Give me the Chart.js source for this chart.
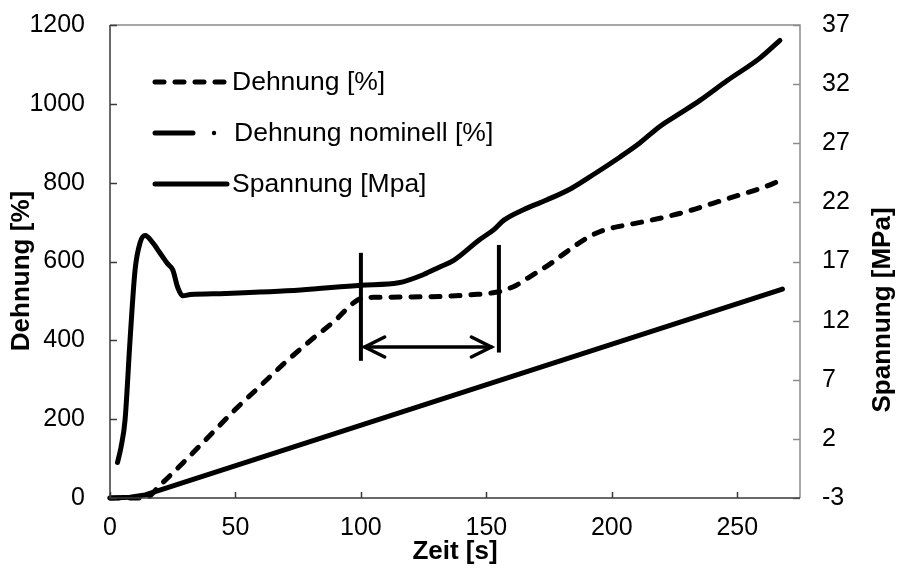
<!DOCTYPE html>
<html>
<head>
<meta charset="utf-8">
<script src="https://cdn.jsdelivr.net/npm/chart.js@4.4.1/dist/chart.umd.min.js"></script>
<style>
  html, body { margin: 0; padding: 0; background: #fff; }
  canvas { display: block; }
</style>
</head>
<body>
<canvas id="chart" width="899" height="568"></canvas>
<script>
// ---- data ----
const dehnungTime = [0, 14, 20, 30, 40, 50, 60, 70, 80, 90, 97, 101, 105, 120, 135, 145, 152, 156, 162, 167, 175, 181, 186, 191, 197, 203, 212, 220, 230, 240, 250, 260, 267];
const dehnungValues = [0, 0, 33, 95, 160, 225, 285, 345, 400, 452, 495, 508, 509, 510, 512, 516, 520, 525, 540, 560, 592, 620, 643, 663, 680, 689, 700, 711, 727, 747, 767, 787, 805];

const nominellTime = [0, 8, 14, 268];
const nominellValues = [0, 2, 8, 530];

const spannungTime = [3, 4.4, 6, 8, 10, 12, 14, 17, 20, 23, 25, 27, 29, 32, 46, 76, 100, 115, 125, 131, 137, 147, 153, 157, 165, 174, 184, 193, 203, 211, 219, 227, 235, 246, 259, 267];
const spannungValues = [0, 1.3, 3.6, 10.4, 16.3, 18.6, 19.2, 18.6, 17.7, 16.8, 16.3, 14.8, 14.1, 14.2, 14.3, 14.6, 15.0, 15.2, 15.9, 16.5, 17.1, 18.8, 19.7, 20.5, 21.4, 22.2, 23.2, 24.4, 25.8, 27.0, 28.4, 29.5, 30.6, 32.3, 34.2, 35.7];

// annotation: two markers and a double arrow between them (data units, left axis)
const markerTime = [100, 155];
const markerLow = [348, 369];
const markerHigh = [622, 642];
const arrowLevel = 383;
const arrowEnds = [101.5, 152];

const xTicks = [0, 50, 100, 150, 200, 250];
const leftTicks = [0, 200, 400, 600, 800, 1000, 1200];
const rightTicks = [-3, 2, 7, 12, 17, 22, 27, 32, 37];

const legendLabels = ['Dehnung [%]', 'Dehnung nominell [%]', 'Spannung [Mpa]'];
const xTitle = 'Zeit [s]';
const leftTitle = 'Dehnung [%]';
const rightTitle = 'Spannung [MPa]';

const FONT = "'Liberation Sans', Arial, sans-serif";

function toPoints(xs, ys) {
    return xs.map((x, i) => ({ x: x, y: ys[i] }));
}

// inward tick marks, frame, axis titles, legend and arrow heads
const framePlugin = {
    id: 'frame',
    afterDatasetsDraw(chart) {
        const ctx = chart.ctx;
        const a = chart.chartArea;
        const sx = chart.scales.x, sy = chart.scales.y, sy2 = chart.scales.y2;
        ctx.save();

        // plot border: grey top/right, dark left/bottom
        ctx.lineWidth = 1.5;
        ctx.strokeStyle = '#8c8c8c';
        ctx.beginPath();
        ctx.moveTo(a.left, a.top); ctx.lineTo(a.right, a.top); ctx.lineTo(a.right, a.bottom);
        ctx.stroke();
        rightTicks.forEach(v => {
            const y = Math.round(sy2.getPixelForValue(v)) + 0.5;
            ctx.beginPath(); ctx.moveTo(a.right, y); ctx.lineTo(a.right - 7, y); ctx.stroke();
        });

        ctx.strokeStyle = '#3a3a3a';
        ctx.beginPath();
        ctx.moveTo(a.left, a.top); ctx.lineTo(a.left, a.bottom); ctx.lineTo(a.right, a.bottom);
        ctx.stroke();
        leftTicks.forEach(v => {
            const y = Math.round(sy.getPixelForValue(v)) + 0.5;
            ctx.beginPath(); ctx.moveTo(a.left, y); ctx.lineTo(a.left + 7, y); ctx.stroke();
        });
        xTicks.forEach(v => {
            const x = Math.round(sx.getPixelForValue(v)) + 0.5;
            ctx.beginPath(); ctx.moveTo(x, a.bottom); ctx.lineTo(x, a.bottom - 6); ctx.stroke();
        });

        // arrow heads
        ctx.strokeStyle = '#000';
        ctx.lineWidth = 3.5;
        ctx.lineCap = 'round';
        const ay = sy.getPixelForValue(arrowLevel);
        const x1 = sx.getPixelForValue(arrowEnds[0]);
        const x2 = sx.getPixelForValue(arrowEnds[1]);
        ctx.beginPath();
        ctx.moveTo(x1 + 20, ay - 10); ctx.lineTo(x1, ay); ctx.lineTo(x1 + 20, ay + 10);
        ctx.moveTo(x2 - 20, ay - 10); ctx.lineTo(x2, ay); ctx.lineTo(x2 - 20, ay + 10);
        ctx.stroke();

        // legend
        const lx = a.left + 45, ly = a.top + 57, step = 51;
        ctx.lineWidth = 5;
        ctx.lineCap = 'round';
        ctx.setLineDash([9, 11]);
        ctx.beginPath(); ctx.moveTo(lx, ly); ctx.lineTo(lx + 72, ly); ctx.stroke();
        ctx.setLineDash([]);
        ctx.beginPath(); ctx.moveTo(lx, ly + step); ctx.lineTo(lx + 38, ly + step); ctx.stroke();
        ctx.beginPath(); ctx.arc(lx + 59, ly + step, 2.2, 0, Math.PI * 2); ctx.fillStyle = '#000'; ctx.fill();
        ctx.beginPath(); ctx.moveTo(lx, ly + 2 * step); ctx.lineTo(lx + 72, ly + 2 * step); ctx.stroke();

        ctx.fillStyle = '#000';
        ctx.font = '26.5px ' + FONT;
        ctx.textAlign = 'left';
        ctx.textBaseline = 'middle';
        legendLabels.forEach((t, i) => {
            const off = i === 1 ? 79 : 77;
            ctx.fillText(t, lx + off, ly + i * step + 1);
        });

        // axis titles
        ctx.font = 'bold 26px ' + FONT;
        ctx.textAlign = 'center';
        ctx.fillText(xTitle, (a.left + a.right) / 2, 552);
        ctx.save();
        ctx.translate(22, 271);
        ctx.rotate(-Math.PI / 2);
        ctx.fillText(leftTitle, 0, 0);
        ctx.restore();
        ctx.save();
        ctx.translate(883, 310);
        ctx.rotate(-Math.PI / 2);
        ctx.fillText(rightTitle, 0, 0);
        ctx.restore();

        ctx.restore();
    }
};

const lineBase = {
    borderColor: '#000',
    backgroundColor: '#000',
    borderWidth: 5,
    pointRadius: 0,
    fill: false,
    clip: false,
    borderCapStyle: 'round',
    borderJoinStyle: 'round'
};

const markerSets = markerTime.map((t, i) => Object.assign({}, lineBase, {
    data: [{ x: t, y: markerLow[i] }, { x: t, y: markerHigh[i] }],
    borderWidth: 4,
    borderCapStyle: 'butt',
    yAxisID: 'y'
}));

const plainLabel = v => String(v);

// fixed axis boxes so the plot area sits where the reference has it
function fixBox(size, horizontal) {
    return s => {
        if (horizontal) s.height = size; else s.width = size;
        s.paddingTop = 0; s.paddingBottom = 0; s.paddingLeft = 0; s.paddingRight = 0;
    };
}

new Chart(document.getElementById('chart'), {
    type: 'line',
    data: {
        datasets: [
            Object.assign({}, lineBase, {
                label: legendLabels[0],
                data: toPoints(dehnungTime, dehnungValues),
                borderDash: [9, 11],
                cubicInterpolationMode: 'monotone',
                yAxisID: 'y'
            }),
            Object.assign({}, lineBase, {
                label: legendLabels[1],
                data: toPoints(nominellTime, nominellValues),
                yAxisID: 'y'
            }),
            Object.assign({}, lineBase, {
                label: legendLabels[2],
                data: toPoints(spannungTime, spannungValues),
                cubicInterpolationMode: 'monotone',
                yAxisID: 'y2'
            }),
            ...markerSets,
            Object.assign({}, lineBase, {
                data: [{ x: arrowEnds[0], y: arrowLevel }, { x: arrowEnds[1], y: arrowLevel }],
                borderWidth: 3.5,
                yAxisID: 'y'
            })
        ]
    },
    options: {
        responsive: false,
        animation: false,
        layout: { padding: { top: 25, left: 0, right: 0, bottom: 0 } },
        plugins: {
            legend: { display: false },
            tooltip: { enabled: false }
        },
        scales: {
            x: {
                type: 'linear',
                position: 'bottom',
                min: 0,
                max: 275,
                afterBuildTicks: s => { s.ticks = xTicks.map(v => ({ value: v })); },
                afterFit: fixBox(70, true),
                grid: { display: false, drawTicks: false },
                border: { display: false },
                ticks: { color: '#000', padding: 15, maxRotation: 0, callback: plainLabel, font: { family: FONT, size: 25 } }
            },
            y: {
                type: 'linear',
                position: 'left',
                min: 0,
                max: 1200,
                afterBuildTicks: s => { s.ticks = leftTicks.map(v => ({ value: v })); },
                afterFit: fixBox(110, false),
                grid: { display: false, drawTicks: false },
                border: { display: false },
                ticks: { color: '#000', padding: 25, callback: plainLabel, font: { family: FONT, size: 25 } }
            },
            y2: {
                type: 'linear',
                position: 'right',
                min: -3,
                max: 37,
                afterBuildTicks: s => { s.ticks = rightTicks.map(v => ({ value: v })); },
                afterFit: fixBox(99, false),
                grid: { display: false, drawTicks: false },
                border: { display: false },
                ticks: { color: '#000', padding: 22, callback: plainLabel, font: { family: FONT, size: 25 } }
            }
        }
    },
    plugins: [framePlugin]
});
</script>
</body>
</html>
